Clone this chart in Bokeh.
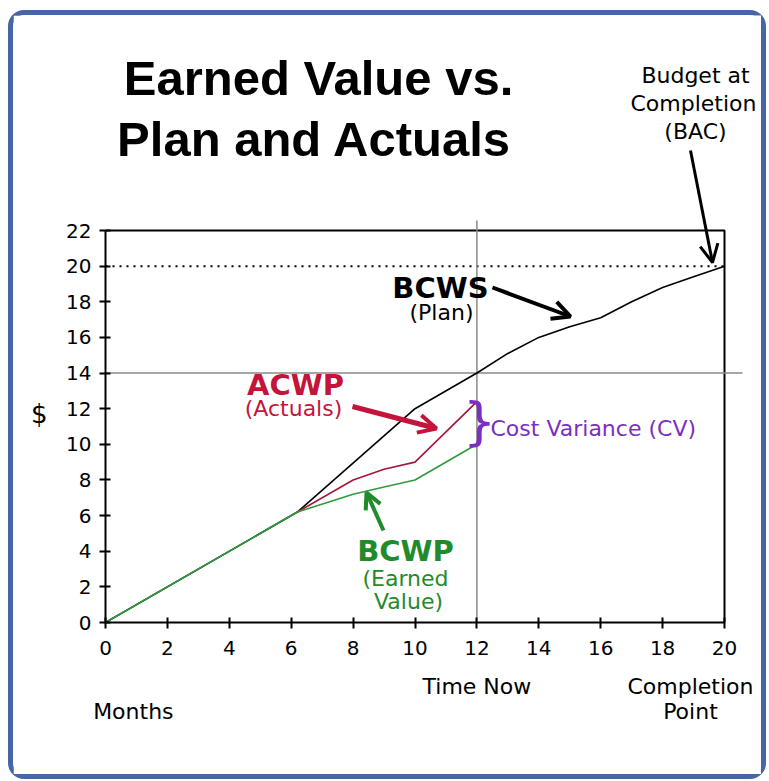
from bokeh.plotting import figure
from bokeh.layouts import column
from bokeh.models import Label, Arrow, OpenHead, FixedTicker, Range1d, LinearAxis
from bokeh.embed import file_html
from bokeh.resources import INLINE

# ---- data ----
month_ticks = [0, 2, 4, 6, 8, 10, 12, 14, 16, 18, 20]
dollar_ticks = [0, 2, 4, 6, 8, 10, 12, 14, 16, 18, 20, 22]

bcws_x = [0, 6.2, 10, 12, 13, 14, 15, 16, 17, 18, 19, 20]
bcws_y = [0, 6.2, 12, 14, 15.1, 16.0, 16.6, 17.1, 18.0, 18.8, 19.4, 20]
acwp_x = [6.2, 8, 9, 10, 12]
acwp_y = [6.2, 8.0, 8.6, 9.0, 12.4]
bcwp_x = [0, 6.2, 8, 9, 10, 12]
bcwp_y = [0, 6.2, 7.2, 7.6, 8.0, 10.0]
bac_level = 20
time_now = 12
plan_at_now = 14
x_max = month_ticks[-1]
y_max = dollar_ticks[-1]

# ---- layout (page pixels) ----
OX, OY = 13, 15            # page position of the figure canvas (inside border)
W, H = 748, 759            # canvas size
FX0, FX1, FY0, FY1 = 105, 724, 622, 230   # page pixels of the plot box
PXX = (FX1 - FX0) / x_max
PXY = (FY0 - FY1) / y_max
def dx(px):
    return (px - FX0) / PXX
def dy(py):
    return (FY0 - py) / PXY

p = figure(width=W, height=H, output_backend="svg", toolbar_location=None,
           x_range=Range1d(0, (OX + W - FX0) / PXX),
           y_range=Range1d(0, (FY0 - OY) / PXY),
           min_border_left=FX0 - OX, min_border_right=0,
           min_border_top=0, min_border_bottom=H - (FY0 - OY))
p.background_fill_color = "white"
p.border_fill_color = "white"
p.outline_line_color = None
p.grid.visible = False

for ax in (p.xaxis[0], p.yaxis[0]):
    ax.axis_line_width = 2
    ax.axis_line_color = "black"
    ax.major_tick_line_width = 2
    ax.major_tick_in = 5
    ax.major_tick_out = 6
    ax.minor_tick_line_color = None
    ax.major_label_text_font = "DejaVu Sans"
    ax.major_label_text_font_size = "20px"
    ax.major_label_text_color = "black"
p.xaxis.ticker = FixedTicker(ticks=month_ticks)
p.yaxis.ticker = FixedTicker(ticks=dollar_ticks)
p.xaxis.bounds = (0, x_max)
p.yaxis.bounds = (0, y_max)
p.xaxis.major_label_standoff = 12
p.yaxis.major_label_standoff = 8

def caption_axis(ticks, labels, size, standoff):
    return LinearAxis(ticker=FixedTicker(ticks=ticks),
                      major_label_overrides=dict(zip(ticks, labels)),
                      axis_line_color=None, major_tick_line_color=None,
                      minor_tick_line_color=None, major_label_standoff=standoff,
                      major_label_text_font="DejaVu Sans",
                      major_label_text_font_size=size,
                      major_label_text_line_height=1.0,
                      major_label_text_color="black")

# "$" caption left of the y axis, captions below the x axis
p.add_layout(caption_axis([11.7], ["$"], "26px", 10), "left")
p.add_layout(caption_axis([0.9, time_now, 18.9],
                          ["\nMonths", "Time Now", "Completion\nPoint"], "22px", 10),
             "below")

# plot box (top and right edges)
p.line([0, x_max, x_max], [y_max, y_max, 0], line_color="black", line_width=2)

# reference lines
p.line([0, x_max], [bac_level, bac_level], line_color="black", line_width=2,
       line_dash="2 5")
grey = "#8a8a8a"
p.line([0, dx(742)], [plan_at_now, plan_at_now], line_color=grey, line_width=1.5)
p.line([time_now, time_now], [0, dy(220)], line_color=grey, line_width=1.5)

# series
p.line(bcws_x, bcws_y, line_color="black", line_width=1.6)
p.line(acwp_x, acwp_y, line_color="#a3163a", line_width=1.6)
p.line(bcwp_x, bcwp_y, line_color="#2e9b3e", line_width=1.6)

def lab(px, py, text, size="22px", color="black", bold=False, align="center",
        font="DejaVu Sans"):
    p.add_layout(Label(x=dx(px), y=dy(py), text=text, text_align=align,
                       text_baseline="middle", text_font=font,
                       text_font_size=size, text_color=color,
                       text_font_style="bold" if bold else "normal"))

# title
lab(318, 77, "Earned Value vs.", size="49px", bold=True, font="Liberation Sans")
lab(314, 138, "Plan and Actuals", size="49px", bold=True, font="Liberation Sans")

# BAC
lab(695, 75, "Budget at")
lab(693, 103, "Completion")
lab(695, 131, "(BAC)")
p.add_layout(Arrow(x_start=dx(690), y_start=dy(150), x_end=dx(712), y_end=dy(262),
                   line_color="black", line_width=3,
                   end=OpenHead(size=18, line_width=3, line_color="black")))

# BCWS
lab(440, 287, "BCWS", size="29px", bold=True)
lab(441, 312, "(Plan)")
p.add_layout(Arrow(x_start=dx(492), y_start=dy(287), x_end=dx(570), y_end=dy(316),
                   line_color="black", line_width=4,
                   end=OpenHead(size=18, line_width=4, line_color="black")))

# ACWP
red = "#c4143c"
lab(295, 384, "ACWP", size="29px", bold=True, color=red)
lab(293, 408, "(Actuals)", color=red)
p.add_layout(Arrow(x_start=dx(352), y_start=dy(406), x_end=dx(436), y_end=dy(428),
                   line_color=red, line_width=5,
                   end=OpenHead(size=18, line_width=4, line_color=red)))

# BCWP
green = "#1f8b2c"
lab(405, 550, "BCWP", size="29px", bold=True, color=green)
lab(405, 578, "(Earned", color=green)
lab(408, 601, "Value)", color=green)
p.add_layout(Arrow(x_start=dx(383), y_start=dy(530), x_end=dx(366), y_end=dy(492),
                   line_color=green, line_width=4,
                   end=OpenHead(size=16, line_width=4, line_color=green)))

# Cost variance
purple = "#7a2fc0"
lab(479, 420, "}", size="52px", color=purple)
lab(490, 428, "Cost Variance (CV)", color=purple, align="left")

layout = column(p, styles={"border": "5px solid #4766a6", "border-radius": "16px",
                           "margin-left": f"{OX - 5}px", "margin-top": f"{OY - 5}px",
                           "background": "white"})

open("out.html", "w").write(file_html(layout, INLINE))
